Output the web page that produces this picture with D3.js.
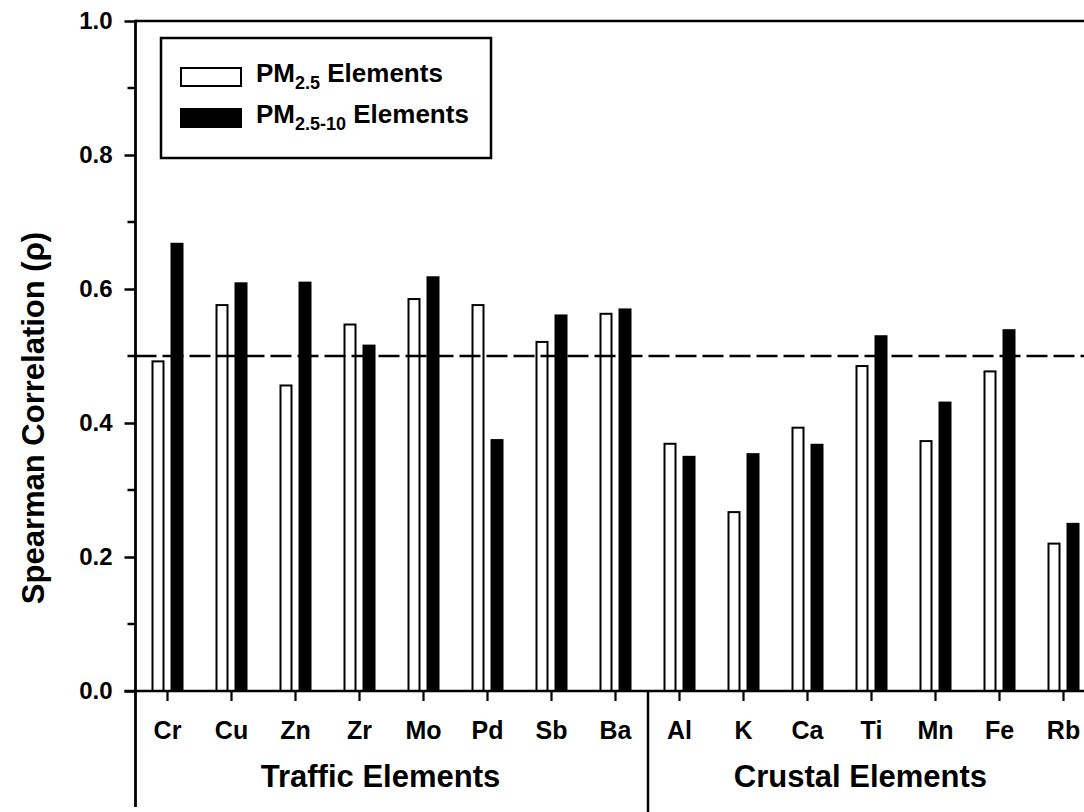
<!DOCTYPE html>
<html>
<head>
<meta charset="utf-8">
<script src="https://cdn.jsdelivr.net/npm/d3@7"></script>
<style>
  body { margin: 0; background: #fff; }
  svg { display: block; font-family: "Liberation Sans", Arial, sans-serif; font-weight: bold; }
</style>
</head>
<body>
<div class="container"></div>
<script>
// data
const elements = ['Cr', 'Cu', 'Zn', 'Zr', 'Mo', 'Pd', 'Sb', 'Ba', 'Al', 'K', 'Ca', 'Ti', 'Mn', 'Fe', 'Rb']
const pm25 = [0.492, 0.576, 0.456, 0.547, 0.585, 0.576, 0.521, 0.563, 0.369, 0.267, 0.393, 0.485, 0.373, 0.477, 0.220]
const pm2510 = [0.669, 0.610, 0.611, 0.517, 0.619, 0.376, 0.562, 0.571, 0.351, 0.355, 0.369, 0.531, 0.432, 0.540, 0.251]
const groups = [
    { name: 'Traffic Elements', from: 'Cr', to: 'Ba' },
    { name: 'Crustal Elements', from: 'Al', to: 'Rb' }
]
const series = ['PM2.5', 'PM2.5-10']
const yTicks = [0, 0.2, 0.4, 0.6, 0.8, 1.0]
const yMinor = [0.1, 0.3, 0.5, 0.7, 0.9]
const threshold = 0.5

let width = 1084
let height = 812
let margin = { left: 135.5, top: 21, bottom: 121 }

let svg = d3.select('.container')
    .append('svg')
    .attr('width', width)
    .attr('height', height)

let x0 = d3.scaleBand()
    .domain(elements)
    .range([margin.left, margin.left + elements.length * 64])

let x1 = d3.scaleBand()
    .domain(series)
    .range([-16, 16])
    .paddingInner(6 / 19)

let y = d3.scaleLinear()
    .domain([0, 1])
    .range([height - margin.bottom, margin.top])

let center = (d) => x0(d) + x0.bandwidth() / 2
let y0 = y(0)

// bars
let rows = elements.map((e, i) => ({ el: e, a: pm25[i], b: pm2510[i] }))

svg.append('g')
    .selectAll('rect')
    .data(rows)
    .enter()
    .append('rect')
    .attr('x', d => center(d.el) + x1('PM2.5') + 1)
    .attr('y', d => y(d.a))
    .attr('width', x1.bandwidth() - 2)
    .attr('height', d => y0 - y(d.a))
    .attr('fill', '#fff')
    .attr('stroke', '#000')
    .attr('stroke-width', 2)

svg.append('g')
    .selectAll('rect')
    .data(rows)
    .enter()
    .append('rect')
    .attr('x', d => center(d.el) + x1('PM2.5-10'))
    .attr('y', d => y(d.b))
    .attr('width', x1.bandwidth())
    .attr('height', d => y0 - y(d.b))
    .attr('fill', '#000')

// dashed reference line
svg.append('line')
    .attr('x1', margin.left)
    .attr('x2', width)
    .attr('y1', y(threshold))
    .attr('y2', y(threshold))
    .attr('stroke', '#000')
    .attr('stroke-width', 2.5)
    .attr('stroke-dasharray', '21,6')

// y axis
let yAxis = svg.append('g')
    .attr('transform', `translate(${margin.left},0)`)
    .call(d3.axisLeft(y).tickValues(yTicks).tickFormat(d3.format('.1f')).tickSize(11).tickSizeOuter(0))
yAxis.select('.domain').remove()
yAxis.selectAll('line').attr('stroke-width', 2.5)
yAxis.selectAll('text')
    .attr('x', -23)
    .attr('font-size', 24)
    .attr('font-family', '"Liberation Sans", Arial, sans-serif')
    .attr('font-weight', 'bold')

svg.append('g')
    .selectAll('line')
    .data(yMinor)
    .enter()
    .append('line')
    .attr('x1', margin.left - 8)
    .attr('x2', margin.left)
    .attr('y1', d => y(d))
    .attr('y2', d => y(d))
    .attr('stroke', '#000')
    .attr('stroke-width', 2.5)

// frame lines
svg.append('line')
    .attr('x1', margin.left).attr('x2', margin.left)
    .attr('y1', margin.top - 1.2).attr('y2', 807)
    .attr('stroke', '#000').attr('stroke-width', 2.8)
svg.append('line')
    .attr('x1', margin.left).attr('x2', width)
    .attr('y1', margin.top).attr('y2', margin.top)
    .attr('stroke', '#000').attr('stroke-width', 2.5)
svg.append('line')
    .attr('x1', margin.left - 11).attr('x2', width)
    .attr('y1', y0).attr('y2', y0)
    .attr('stroke', '#000').attr('stroke-width', 2.5)

// x ticks and labels
let xg = svg.append('g')
xg.selectAll('line')
    .data(elements)
    .enter()
    .append('line')
    .attr('x1', d => center(d)).attr('x2', d => center(d))
    .attr('y1', y0).attr('y2', y0 + 10)
    .attr('stroke', '#000').attr('stroke-width', 2.2)
xg.selectAll('text')
    .data(elements)
    .enter()
    .append('text')
    .attr('x', d => center(d))
    .attr('y', y0 + 48)
    .attr('text-anchor', 'middle')
    .attr('font-size', 25)
    .text(d => d)

// group separator and labels
let sep = (x0('Ba') + x0.bandwidth() + x0('Al')) / 2 + 0.5
svg.append('line')
    .attr('x1', sep).attr('x2', sep)
    .attr('y1', y0).attr('y2', height)
    .attr('stroke', '#000').attr('stroke-width', 2.5)

svg.append('g')
    .selectAll('text')
    .data(groups)
    .enter()
    .append('text')
    .attr('x', d => (center(d.from) + center(d.to)) / 2 - 11)
    .attr('y', y0 + 96)
    .attr('text-anchor', 'middle')
    .attr('font-size', 31)
    .text(d => d.name)

// y title
svg.append('text')
    .attr('transform', `translate(44,${(margin.top + y0) / 2 + 62}) rotate(-90)`)
    .attr('text-anchor', 'middle')
    .attr('font-size', 31)
    .text('Spearman Correlation (ρ)')

// legend
let legend = svg.append('g')
legend.append('rect')
    .attr('x', 161).attr('y', 38)
    .attr('width', 330).attr('height', 120)
    .attr('fill', 'none').attr('stroke', '#000').attr('stroke-width', 2.5)

let legendRows = [
    { fill: '#fff', sub: '2.5', y: 67 },
    { fill: '#000', sub: '2.5-10', y: 108 }
]
legendRows.forEach(r => {
    legend.append('rect')
        .attr('x', r.fill === '#fff' ? 181 : 180)
        .attr('y', r.fill === '#fff' ? r.y + 1 : r.y)
        .attr('width', r.fill === '#fff' ? 60 : 62)
        .attr('height', r.fill === '#fff' ? 18 : 20)
        .attr('fill', r.fill)
        .attr('stroke', r.fill === '#fff' ? '#000' : 'none')
        .attr('stroke-width', 2)
    let t = legend.append('text')
        .attr('x', 256)
        .attr('y', r.y + 15)
        .attr('font-size', 26)
    t.append('tspan').text('PM')
    t.append('tspan').attr('font-size', 18).attr('dy', 7).text(r.sub)
    t.append('tspan').attr('dy', -7).text(' Elements')
})
</script>
</body>
</html>
